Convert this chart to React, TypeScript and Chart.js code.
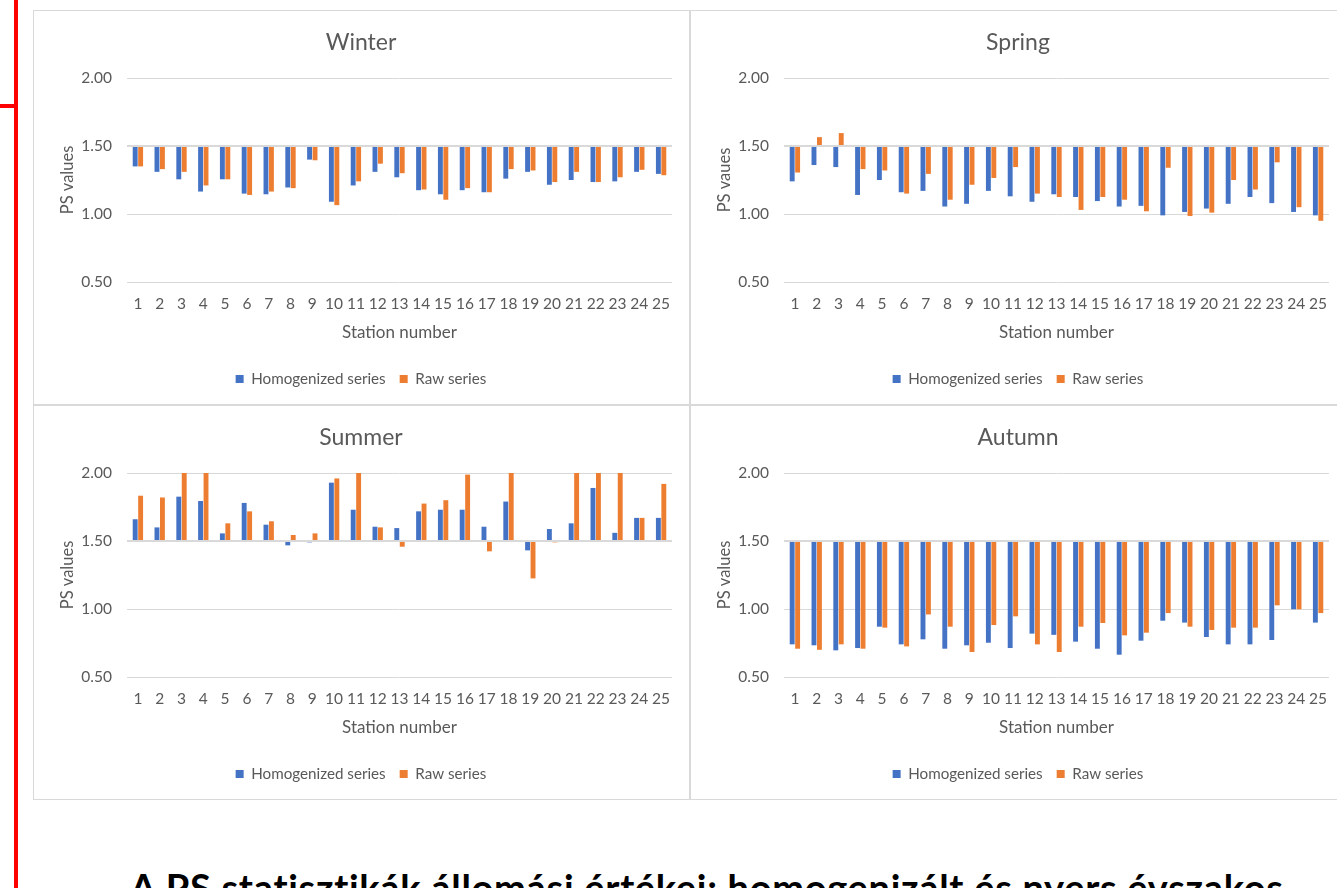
import React, { useEffect, useRef } from 'react';
import { Chart, registerables } from 'chart.js';

Chart.register(...registerables);

const stationLabels: string[] = ['1','2','3','4','5','6','7','8','9','10','11','12','13','14','15','16','17','18','19','20','21','22','23','24','25'];
const seriesNames: string[] = ['Homogenized series', 'Raw series'];
const axisBase = 1.5;
const yMin = 0.5;
const yMax = 2.0;
const yStep = 0.5;

const winterHomogenized: number[] = [1.35,1.31,1.255,1.165,1.255,1.15,1.145,1.195,1.40,1.09,1.21,1.31,1.27,1.175,1.145,1.175,1.16,1.26,1.31,1.215,1.25,1.235,1.24,1.31,1.295];
const winterRaw: number[] = [1.35,1.33,1.31,1.21,1.255,1.14,1.165,1.19,1.395,1.065,1.24,1.37,1.30,1.18,1.105,1.19,1.16,1.33,1.32,1.235,1.31,1.235,1.27,1.325,1.285];

const springHomogenized: number[] = [1.24,1.36,1.345,1.14,1.25,1.16,1.17,1.055,1.075,1.17,1.13,1.09,1.145,1.125,1.095,1.055,1.06,0.99,1.015,1.04,1.075,1.125,1.08,1.015,0.99];
const springRaw: number[] = [1.305,1.565,1.595,1.33,1.32,1.15,1.295,1.105,1.215,1.265,1.345,1.15,1.125,1.03,1.125,1.105,1.02,1.34,0.985,1.01,1.25,1.18,1.38,1.05,0.95];

const summerHomogenized: number[] = [1.66,1.60,1.826,1.794,1.556,1.78,1.62,1.468,1.49,1.929,1.73,1.605,1.595,1.718,1.73,1.73,1.605,1.79,1.431,1.588,1.63,1.89,1.56,1.67,1.67];
const summerRaw: number[] = [1.833,1.82,2.0,2.0,1.63,1.718,1.645,1.544,1.556,1.96,2.0,1.60,1.458,1.775,1.80,1.988,1.424,2.0,1.225,1.49,2.0,2.0,2.0,1.67,1.92];

const autumnHomogenized: number[] = [0.74,0.733,0.696,0.713,0.87,0.74,0.777,0.708,0.733,0.752,0.713,0.819,0.81,0.76,0.708,0.664,0.767,0.914,0.90,0.794,0.74,0.74,0.772,0.998,0.90];
const autumnRaw: number[] = [0.708,0.70,0.74,0.708,0.863,0.725,0.96,0.87,0.684,0.882,0.946,0.74,0.684,0.87,0.897,0.806,0.826,0.97,0.87,0.846,0.863,0.863,1.027,0.998,0.97];

const textColor = '#595959';
const gridColor = '#d9d9d9';
const fontFamily = "Lato, 'Open Sans', sans-serif";

Chart.defaults.font.family = fontFamily;

type PanelProps = {
  title: string;
  yTitle: string;
  hom: number[];
  raw: number[];
  left: number;
  top: number;
};

const PANEL_W = 657;
const PANEL_H = 395;

function Panel({ title, yTitle, hom, raw, left, top }: PanelProps) {
  const ref = useRef<HTMLCanvasElement>(null);
  useEffect(() => {
    if (!ref.current) return;
    const chart = new Chart(ref.current, {
      type: 'bar',
      data: {
        labels: stationLabels,
        datasets: [
          {
            label: seriesNames[0],
            data: hom,
            backgroundColor: '#4472C4',
            base: axisBase,
            categoryPercentage: 0.5,
            barPercentage: 0.9,
            yAxisID: 'y',
          } as any,
          {
            label: seriesNames[1],
            data: raw,
            backgroundColor: '#ED7D31',
            base: axisBase,
            categoryPercentage: 0.5,
            barPercentage: 0.9,
            yAxisID: 'y',
          } as any,
        ],
      },
      options: {
        animation: false,
        responsive: false,
        maintainAspectRatio: false,
        layout: { padding: { top: 0, left: 0, right: 1, bottom: 7.4 } },
        plugins: {
          title: {
            display: true,
            text: title,
            color: textColor,
            font: { size: 23, weight: 'normal' as any },
            padding: { top: 18.2, bottom: 21.2 },
          },
          legend: {
            position: 'bottom',
            labels: {
              boxWidth: 8,
              boxHeight: 8,
              color: textColor,
              font: { size: 15.2 },
              padding: 14,
            },
          },
          tooltip: { enabled: false },
        },
        scales: {
          x: {
            grid: { display: false, drawTicks: false },
            border: { display: false },
            ticks: {
              color: textColor,
              font: { size: 15.5 },
              padding: 12.7,
              maxRotation: 0,
              autoSkip: false,
            },
            title: {
              display: true,
              text: 'Station number',
              color: textColor,
              font: { size: 17 },
              padding: { top: 0, bottom: 14.2 },
            },
            afterFit: (s: any) => { s.height = 75.4; },
          },
          y: {
            min: yMin,
            max: yMax,
            grid: {
              color: gridColor,
              drawTicks: false,
              lineWidth: (ctx: any) => (ctx.tick && ctx.tick.value === axisBase ? 2 : 1),
            },
            border: { display: false },
            ticks: {
              stepSize: yStep,
              padding: 15,
              color: textColor,
              font: { size: 15.5 },
              callback: (v: any) => Number(v).toFixed(2),
            },
            title: {
              display: true,
              text: yTitle,
              color: textColor,
              font: { size: 16.5 },
              padding: { top: 24.1, bottom: 0 },
            },
            afterFit: (s: any) => { s.width = 93; },
          },
          yRightSpacer: {
            position: 'right',
            display: true,
            min: yMin,
            max: yMax,
            grid: { display: false, drawTicks: false },
            border: { display: false },
            ticks: { display: false },
            afterFit: (s: any) => { s.width = 16; },
          } as any,
        },
      },
    });
    return () => chart.destroy();
  }, [title, yTitle, hom, raw]);

  return (
    <div
      style={{
        position: 'absolute',
        left,
        top,
        width: PANEL_W,
        height: PANEL_H,
        border: `1px solid ${gridColor}`,
        boxSizing: 'border-box',
        background: '#fff',
      }}
    >
      <canvas ref={ref} width={PANEL_W - 2} height={PANEL_H - 2} style={{ display: 'block' }} />
    </div>
  );
}

export default function App() {
  return (
    <div
      style={{
        position: 'fixed',
        left: 0,
        top: 0,
        width: 1337,
        height: 888,
        overflow: 'hidden',
        background: '#ffffff',
      }}
    >
      <div style={{ position: 'absolute', left: 14, top: 0, width: 4, height: 888, background: '#ff0000' }} />
      <div style={{ position: 'absolute', left: 0, top: 104, width: 14, height: 4, background: '#ff0000' }} />
      <Panel title="Winter" yTitle="PS values" hom={winterHomogenized} raw={winterRaw} left={33} top={10} />
      <Panel title="Spring" yTitle="PS vaues" hom={springHomogenized} raw={springRaw} left={690} top={10} />
      <Panel title="Summer" yTitle="PS values" hom={summerHomogenized} raw={summerRaw} left={33} top={405} />
      <Panel title="Autumn" yTitle="PS values" hom={autumnHomogenized} raw={autumnRaw} left={690} top={405} />
      <div
        style={{
          position: 'absolute',
          left: 130,
          top: 868,
          whiteSpace: 'nowrap',
          fontFamily,
          fontWeight: 'bold',
          fontSize: 38,
          letterSpacing: 0.7,
          lineHeight: 1,
          color: '#000',
        }}
      >
        A PS statisztikák állomási értékei: homogenizált és nyers évszakos
      </div>
    </div>
  );
}
